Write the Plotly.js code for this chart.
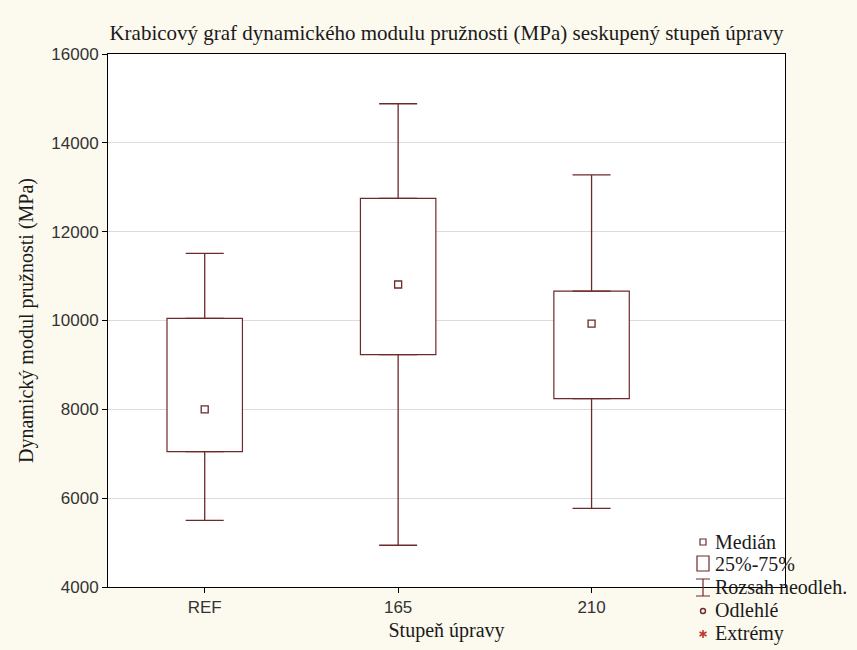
<!DOCTYPE html>
<html>
<head>
<meta charset="utf-8">
<script src="https://cdn.plot.ly/plotly-3.0.1.min.js"></script>
<style>
  html, body { margin: 0; padding: 0; background: #fcf9ee; }
  #chart { width: 857px; height: 650px; }
</style>
</head>
<body>
<div id="chart"></div>
<script>
// Dynamic modulus of elasticity (MPa) grouped by treatment level
const categories   = ['REF', '165', '210'];
const lowerWhisker = [5500, 4940, 5770];
const q1           = [7050, 9230, 8240];
const median       = [8000, 10810, 9930];
const q3           = [10050, 12750, 10660];
const upperWhisker = [11510, 14880, 13280];
const yTickValues  = [4000, 6000, 8000, 10000, 12000, 14000, 16000];

const legendLabels = ['Medián', '25%-75%', 'Rozsah neodleh.', 'Odlehlé', 'Extrémy'];

const xs = categories.map((_, i) => i);
const boxColor = '#6e2a2a';
const extremeColor = '#c0392b';
const serif = 'Liberation Serif, Times New Roman, serif';
const sans = 'Liberation Sans, Arial, sans-serif';

// plot-area edges in pixels, used to place the legend in paper units
const L = 108, R = 785, T = 54, B = 587;
const px = x => (x - L) / (R - L);
const py = y => (B - y) / (B - T);

const traces = [
  // interquartile box
  {
    type: 'bar', x: xs, base: q1, y: q3.map((v, i) => v - q1[i]),
    width: 0.39, marker: { color: '#ffffff', line: { color: boxColor, width: 1.2 } },
    showlegend: false, hoverinfo: 'skip'
  },
  // upper whisker
  {
    type: 'scatter', mode: 'markers', x: xs, y: q3,
    marker: { size: 1, color: 'rgba(0,0,0,0)' },
    error_y: { type: 'data', symmetric: false,
      array: upperWhisker.map((v, i) => v - q3[i]), arrayminus: q3.map(() => 0),
      width: 19, thickness: 1.3, color: boxColor },
    showlegend: false, hoverinfo: 'skip'
  },
  // lower whisker
  {
    type: 'scatter', mode: 'markers', x: xs, y: q1,
    marker: { size: 1, color: 'rgba(0,0,0,0)' },
    error_y: { type: 'data', symmetric: false,
      array: q1.map(() => 0), arrayminus: q1.map((v, i) => v - lowerWhisker[i]),
      width: 19, thickness: 1.3, color: boxColor },
    showlegend: false, hoverinfo: 'skip'
  },
  // median
  {
    type: 'scatter', mode: 'markers', x: xs, y: median, name: 'Medián',
    marker: { symbol: 'square-open', size: 7, color: boxColor, line: { width: 1.3, color: boxColor } },
    showlegend: false
  }
];

// legend symbols drawn as shapes beside annotation labels
const rowY = [542, 564, 587, 610, 633];
const symX = 703;
const a = 4, d = 3.5; // asterisk arm lengths
const shapes = [
  { type: 'rect', xref: 'paper', yref: 'paper', x0: px(symX - 3), x1: px(symX + 3), y0: py(rowY[0] + 3), y1: py(rowY[0] - 3),
    line: { color: boxColor, width: 1.2 }, fillcolor: '#ffffff' },
  { type: 'rect', xref: 'paper', yref: 'paper', x0: px(symX - 6), x1: px(symX + 6), y0: py(rowY[1] + 7), y1: py(rowY[1] - 8),
    line: { color: boxColor, width: 1.2 }, fillcolor: '#ffffff' },
  { type: 'path', xref: 'paper', yref: 'paper',
    path: `M ${px(symX - 7)} ${py(rowY[2] - 8)} L ${px(symX + 7)} ${py(rowY[2] - 8)} M ${px(symX)} ${py(rowY[2] - 8)} L ${px(symX)} ${py(rowY[2] + 9)} M ${px(symX - 7)} ${py(rowY[2] + 9)} L ${px(symX + 7)} ${py(rowY[2] + 9)}`,
    line: { color: boxColor, width: 1.2 } },
  { type: 'circle', xref: 'paper', yref: 'paper', x0: px(symX - 2.5), x1: px(symX + 2.5), y0: py(rowY[3] + 3.5), y1: py(rowY[3] - 1.5),
    line: { color: boxColor, width: 1.4 } },
  { type: 'path', xref: 'paper', yref: 'paper',
    path: `M ${px(symX)} ${py(rowY[4] + 1 - a)} L ${px(symX)} ${py(rowY[4] + 1 + a)} ` +
          `M ${px(symX - d)} ${py(rowY[4] + 1 - a / 2)} L ${px(symX + d)} ${py(rowY[4] + 1 + a / 2)} ` +
          `M ${px(symX - d)} ${py(rowY[4] + 1 + a / 2)} L ${px(symX + d)} ${py(rowY[4] + 1 - a / 2)}`,
    line: { color: extremeColor, width: 1.6 } }
];

const annotations = legendLabels.map((t, i) => ({
  text: t, xref: 'paper', yref: 'paper', x: px(713), y: py(rowY[i]),
  xanchor: 'left', yanchor: 'middle', showarrow: false,
  font: { family: serif, size: 20, color: '#1a1a1a' }
}));

const layout = {
  width: 857, height: 650,
  paper_bgcolor: '#fcf9ee', plot_bgcolor: '#ffffff',
  margin: { l: L, r: 857 - R, t: T, b: 650 - B },
  showlegend: false,
  title: {
    text: 'Krabicový graf dynamického modulu pružnosti (MPa) seskupený stupeň úpravy',
    font: { family: serif, size: 21, color: '#1a1a1a' },
    x: 0.5, xref: 'paper', y: 1 - 33 / 650, yref: 'container', yanchor: 'middle'
  },
  xaxis: {
    range: [-0.5, 3.0], tickvals: xs, ticktext: categories,
    ticks: 'outside', ticklen: 5, tickcolor: '#000',
    showline: true, linecolor: '#000', linewidth: 1, mirror: true,
    showgrid: false, zeroline: false,
    tickfont: { family: sans, size: 17, color: '#333' },
    title: { text: 'Stupeň úpravy', font: { family: serif, size: 20, color: '#1a1a1a' }, standoff: 6 }
  },
  xaxis2: {
    overlaying: 'x', side: 'top', anchor: 'y', matches: 'x', range: [-0.5, 3.0],
    tickvals: xs, ticks: 'inside', ticklen: 5, tickcolor: '#000',
    showticklabels: false, showgrid: false, showline: false, zeroline: false
  },
  yaxis: {
    range: [4000, 16000], tickvals: yTickValues, tickformat: 'd',
    ticks: 'outside', ticklen: 5, tickcolor: '#000',
    showline: true, linecolor: '#000', linewidth: 1, mirror: true,
    showgrid: true, gridcolor: '#dcdcdc', gridwidth: 1, zeroline: false,
    tickfont: { family: sans, size: 17, color: '#333' },
    title: { text: 'Dynamický modul pružnosti (MPa)', font: { family: serif, size: 20, color: '#1a1a1a' }, standoff: 12 }
  },
  shapes: shapes,
  annotations: annotations
};

Plotly.newPlot('chart', traces, layout, { displayModeBar: false, staticPlot: true });
</script>
</body>
</html>
